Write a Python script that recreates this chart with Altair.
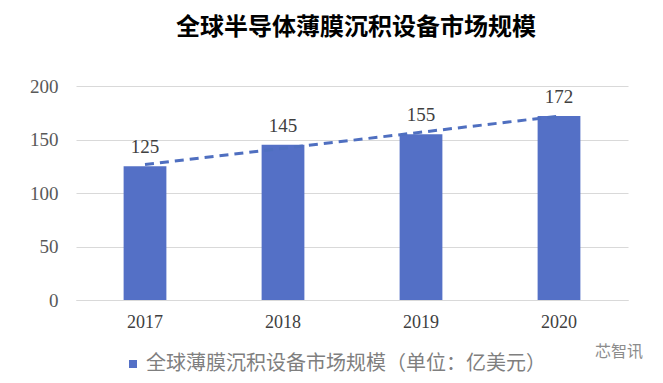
import altair as alt
import pandas as pd

years = [2017, 2018, 2019, 2020]
values = [125, 145, 155, 172]
series_name = "全球薄膜沉积设备市场规模（单位：亿美元）"
title_text = "全球半导体薄膜沉积设备市场规模"
watermark = "芯智讯"

df = pd.DataFrame({"year": years, "value": values, "series": [series_name] * len(years)})

BAR = "#5470C6"
GRID = "#D9D9D9"
SERIF = "Liberation Serif"
CJK = "Noto Sans CJK SC"

x_enc = alt.X("year:O", title=None,
              scale=alt.Scale(paddingInner=0.69, paddingOuter=0.345),
              axis=alt.Axis(labelAngle=0, labelFont=SERIF, labelFontSize=18,
                            labelColor="#404040", labelPadding=13, ticks=False,
                            domainColor=GRID, domainWidth=1))
y_enc = alt.Y("value:Q", title=None,
              scale=alt.Scale(domain=[0, 200]),
              axis=alt.Axis(values=[0, 50, 100, 150, 200], labelFont=SERIF,
                            labelFontSize=19, labelColor="#595959", labelPadding=18,
                            ticks=False, domain=False, gridColor=GRID, gridWidth=1))

bars = alt.Chart(df).mark_bar(color=BAR).encode(
    x=x_enc, y=y_enc,
    color=alt.Color("series:N", scale=alt.Scale(range=[BAR]),
                    legend=alt.Legend(title=None, orient="none", legendX=47, legendY=268,
                                      symbolType="square", symbolSize=64,
                                      labelFont=CJK, labelFontSize=20, labelLimit=0,
                                      labelColor="#7F7F7F", labelOffset=3))
)

labels = alt.Chart(df).mark_text(font=SERIF, fontSize=19, color="#404040",
                                 baseline="alphabetic", dy=-13).encode(
    x="year:O", y="value:Q", text="value:Q")

trend = alt.Chart(df).transform_regression("year", "value").mark_line(
    color="#4F6FC0", strokeDash=[9, 6], strokeWidth=3).encode(
    x="year:O", y="value:Q")

mark = alt.Chart(pd.DataFrame({"t": [watermark]})).mark_text(
    font=CJK, fontSize=16, color="#8C8C8C", align="left", baseline="middle").encode(
    x=alt.value(519), y=alt.value(266), text="t:N")

chart = alt.layer(bars, trend, labels, mark).properties(
    width=552, height=214,
    padding={"left": 68, "top": 78, "right": 27, "bottom": 75},
    autosize=alt.AutoSizeParams(type="none"),
    title=alt.TitleParams(title_text, font=CJK, fontSize=24, fontWeight="bold",
                          color="#000000", anchor="middle", dx=4, offset=37),
).configure_view(stroke=None).configure_axisY(grid=True).configure_axisX(grid=False)

chart.save("out.html", embed_options={"renderer": "svg", "actions": False})
